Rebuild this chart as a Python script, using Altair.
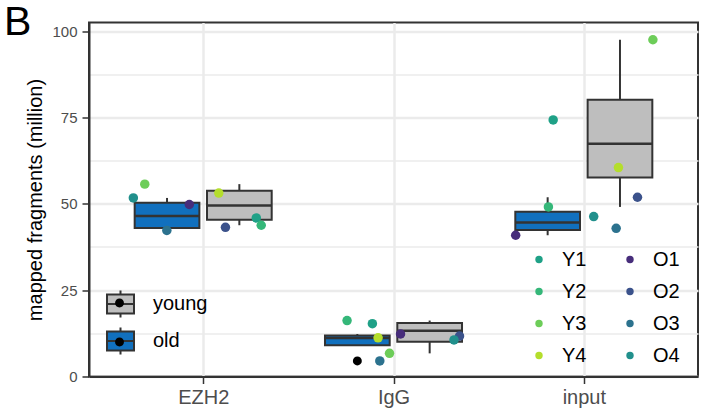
import json
import altair as alt
import pandas as pd

# ---------------- data ----------------
assays = ["EZH2", "IgG", "input"]
samples = ["Y1", "Y2", "Y3", "Y4", "O1", "O2", "O3", "O4"]
sample_group = ["young", "young", "young", "young", "old", "old", "old", "old"]
groups = ["young", "old"]

vals_ezh2 = [45.9, 43.8, 55.7, 53.1, 49.8, 43.2, 42.3, 51.7]
vals_igg = [15.3, 16.2, 6.7, 11.2, 12.3, 11.7, 4.5, 10.6]
vals_input = [74.3, 49.1, 97.5, 60.5, 40.9, 51.9, 42.9, 46.3]

# horizontal jitter of each point (category units)
jit_ezh2 = [0.279, 0.305, -0.307, 0.082, -0.073, 0.117, -0.191, -0.367]
jit_igg = [-0.111, -0.244, -0.021, -0.081, 0.037, 0.347, -0.072, 0.318]
jit_input = [-0.161, -0.186, 0.363, 0.182, -0.358, 0.282, 0.170, 0.052]

sample_colors = ["#1FA187", "#35B779", "#6DCD59", "#B4DE2C",
                 "#472D7B", "#3B528B", "#2C728E", "#21908C"]
group_fill = ["#BEBEBE", "#1170BE"]

rows = []
for a, vals, jit in zip(assays, [vals_ezh2, vals_igg, vals_input],
                        [jit_ezh2, jit_igg, jit_input]):
    for s, g, v, j in zip(samples, sample_group, vals, jit):
        rows.append({"assay": a, "sample": s, "group": g, "value": v, "jitter": j})
df = pd.DataFrame(rows)

# ---------------- styling ----------------
FONT = "Liberation Sans"
DARK = "#333333"
DODGE = 0.19
HALF = 0.17

idx_expr = f"indexof({json.dumps(assays)}, datum.assay) + 1"
xc_expr = f"datum.idx + (datum.group === 'old' ? -{DODGE} : {DODGE})"

xs = alt.Scale(domain=[0.4, 3.6], nice=False, zero=False)
ys = alt.Scale(domain=[0, 102.5], nice=False, zero=False)

xax = alt.Axis(
    values=[1, 2, 3],
    labelExpr=f"{json.dumps(assays)}[round(datum.value) - 1]",
    title=None, grid=True, gridColor="#EBEBEB", gridWidth=2.5,
    domainColor=DARK, domainWidth=2, tickColor=DARK, tickWidth=1.5, tickSize=7,
    labelFontSize=20, labelColor="#4D4D4D", labelPadding=4, labelFont=FONT,
)
yax = alt.Axis(
    values=[0, 12.5, 25, 37.5, 50, 62.5, 75, 87.5, 100],
    labelExpr="datum.value % 25 === 0 ? datum.label : ''",
    grid=True, gridColor="#EBEBEB",
    gridWidth={"condition": {"test": "datum.value % 25 === 0", "value": 2.5}, "value": 1.5},
    tickOpacity={"condition": {"test": "datum.value % 25 === 0", "value": 1}, "value": 0},
    domainColor=DARK, domainWidth=2, tickColor=DARK, tickWidth=1.5, tickSize=7,
    labelFontSize=15, labelColor="#4D4D4D", labelPadding=5, labelFont=FONT,
    title="mapped fragments (million)", titleFontSize=20, titleFontWeight="normal",
    titleColor="black", titlePadding=6, titleFont=FONT,
)

box_path = ("M-1,-0.7L1,-0.7L1,0.7L-1,0.7Z M-1,0L1,0 "
            "M0,-0.7L0,-1 M0,0.7L0,1")
dot_path = "M-0.33,0A0.33,0.33 0 1,0 0.33,0A0.33,0.33 0 1,0 -0.33,0Z"

legend_box = alt.Legend(
    orient="none", legendX=17, legendY=267, title=None,
    symbolType=box_path, symbolSize=729, symbolStrokeColor=DARK,
    symbolStrokeWidth=2, labelFontSize=20, labelColor="black", labelFont=FONT,
    labelOffset=18, rowPadding=2, padding=0, zindex=1,
)
legend_dot = alt.Legend(
    orient="none", legendX=17, legendY=267, title=None,
    symbolType=dot_path, symbolSize=729, symbolFillColor="black",
    symbolStrokeWidth=0, symbolOpacity=1, labelFontSize=20,
    labelExpr="''", labelFont=FONT, labelOffset=18, rowPadding=15,
    padding=0, zindex=2,
)
legend_samples = alt.Legend(
    orient="none", legendX=440, legendY=227, title=None, columns=2,
    symbolType="circle", symbolSize=55, symbolStrokeWidth=0, symbolOpacity=1,
    labelFontSize=20, labelColor="black", labelFont=FONT, labelOffset=13,
    rowPadding=12, columnPadding=33, padding=0,
)

# ---------------- layers ----------------
base = alt.Chart(df).transform_calculate(idx=idx_expr)

stats = base.transform_joinaggregate(
    q1a="q1(value)", q3a="q3(value)", groupby=["assay", "group"]
).transform_calculate(
    iqr="datum.q3a - datum.q1a"
).transform_calculate(
    outlier="datum.value < datum.q1a - 1.5 * datum.iqr || datum.value > datum.q3a + 1.5 * datum.iqr"
).transform_calculate(
    wval="datum.outlier ? null : datum.value"
)

boxes = stats.transform_aggregate(
    q1="q1(value)", med="median(value)", q3="q3(value)",
    wlo="min(wval)", whi="max(wval)", groupby=["assay", "group", "idx"]
).transform_calculate(
    xc=xc_expr
).transform_calculate(
    xl=f"datum.xc - {HALF}", xr=f"datum.xc + {HALF}", dotkey="'k_' + datum.group"
)

whiskers = boxes.mark_rule(color=DARK, strokeWidth=2).encode(
    x=alt.X("xc:Q", scale=xs, axis=xax),
    y=alt.Y("wlo:Q", scale=ys, axis=yax),
    y2="whi:Q",
)
rects = boxes.mark_rect(stroke=DARK, strokeWidth=2).encode(
    x=alt.X("xl:Q", scale=xs, axis=xax),
    x2="xr:Q",
    y=alt.Y("q1:Q", scale=ys, axis=yax),
    y2="q3:Q",
    fill=alt.Fill("group:N", scale=alt.Scale(domain=groups, range=group_fill),
                  legend=legend_box),
)
medians = boxes.mark_rule(color=DARK, strokeWidth=2.5).encode(
    x=alt.X("xl:Q", scale=xs, axis=xax),
    x2="xr:Q",
    y=alt.Y("med:Q", scale=ys, axis=yax),
)
dots_legend = boxes.mark_point(opacity=0, filled=True, color="black").encode(
    x=alt.X("xc:Q", scale=xs, axis=xax),
    y=alt.Y("med:Q", scale=ys, axis=yax),
    shape=alt.Shape("dotkey:N",
                    scale=alt.Scale(domain=["k_young", "k_old"], range=[dot_path, dot_path]),
                    legend=legend_dot),
)
outliers = stats.transform_filter("datum.outlier").transform_calculate(
    xc=xc_expr
).mark_circle(color="black", size=80, opacity=1).encode(
    x=alt.X("xc:Q", scale=xs, axis=xax),
    y=alt.Y("value:Q", scale=ys, axis=yax),
)
points = base.transform_calculate(px="datum.idx + datum.jitter").mark_circle(
    size=90, opacity=1
).encode(
    x=alt.X("px:Q", scale=xs, axis=xax),
    y=alt.Y("value:Q", scale=ys, axis=yax),
    color=alt.Color("sample:N", scale=alt.Scale(domain=samples, range=sample_colors),
                    legend=legend_samples),
)

chart = alt.layer(whiskers, rects, medians, dots_legend, outliers, points).properties(
    width=609, height=354,
    autosize=alt.AutoSizeParams(type="none"),
    padding={"left": 89, "top": 22.5, "right": 4, "bottom": 35.5},
    title=alt.TitleParams("B", anchor="start", frame="group", fontSize=41,
                          fontWeight="normal", dx=-85, dy=53, offset=0,
                          baseline="alphabetic", color="black", font=FONT),
).configure(font=FONT).configure_view(stroke=DARK, strokeWidth=2)

chart.save("out.html", embed_options={"renderer": "svg", "actions": False})
